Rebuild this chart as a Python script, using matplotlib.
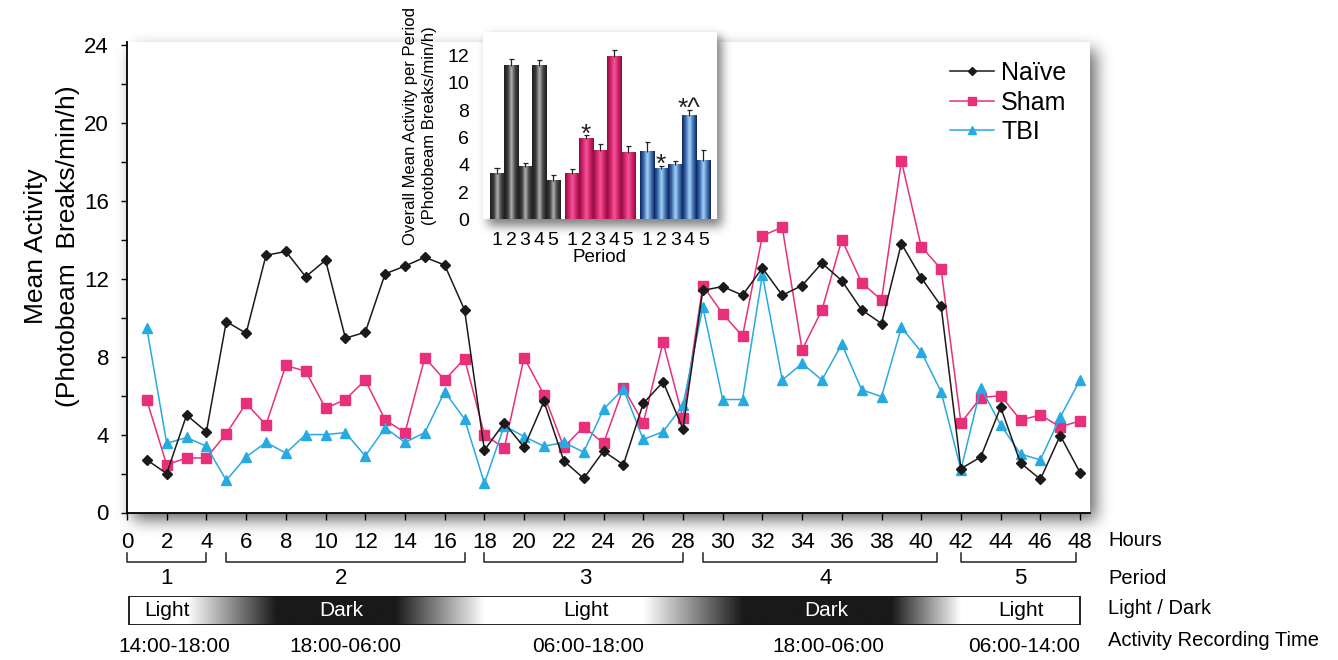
import numpy as np
import matplotlib
matplotlib.use('Agg')
import matplotlib.pyplot as plt
from matplotlib import transforms
from matplotlib.colors import LinearSegmentedColormap
from matplotlib.patches import Rectangle
from matplotlib.ticker import MultipleLocator

plt.rcParams['font.family'] = ['Liberation Sans', 'DejaVu Sans']

# hourly mean activity (photobeam breaks/min/h)
hours = np.arange(1, 49)
naive = [2.7, 2.0, 5.0, 4.15, 9.8, 9.2, 13.2, 13.4, 12.1, 12.95,
         8.95, 9.25, 12.25, 12.65, 13.1, 12.7, 10.4, 3.2, 4.6, 3.35,
         5.7, 2.65, 1.75, 3.15, 2.45, 5.6, 6.7, 4.3, 11.4, 11.6,
         11.15, 12.55, 11.15, 11.65, 12.8, 11.9, 10.4, 9.7, 13.8, 12.05,
         10.6, 2.25, 2.85, 5.4, 2.55, 1.7, 3.95, 2.05]
sham = [5.75, 2.45, 2.8, 2.8, 4.05, 5.6, 4.5, 7.55, 7.25, 5.35,
        5.8, 6.8, 4.75, 4.1, 7.95, 6.8, 7.9, 4.0, 3.3, 7.95,
        6.05, 3.35, 4.4, 3.55, 6.4, 4.6, 8.75, 4.85, 11.65, 10.2,
        9.05, 14.2, 14.65, 8.35, 10.4, 14.0, 11.8, 10.9, 18.05, 13.65,
        12.5, 4.6, 5.9, 6.0, 4.75, 5.0, 4.4, 4.7]
tbi = [9.45, 3.55, 3.85, 3.4, 1.65, 2.85, 3.6, 3.05, 4.0, 4.0,
       4.1, 2.9, 4.35, 3.6, 4.1, 6.2, 4.8, 1.5, 4.45, 3.9,
       3.4, 3.6, 3.1, 5.3, 6.35, 3.75, 4.15, 5.5, 10.55, 5.8,
       5.8, 12.2, 6.8, 7.65, 6.8, 8.65, 6.3, 5.95, 9.5, 8.25,
       6.2, 2.2, 6.4, 4.5, 3.0, 2.7, 4.9, 6.8]

# overall mean per period (inset)
periods = ['1', '2', '3', '4', '5']
naive_period = [3.3, 11.2, 3.8, 11.2, 2.8]
naive_period_err = [0.45, 0.55, 0.35, 0.45, 0.45]
sham_period = [3.3, 5.85, 5.0, 11.9, 4.85]
sham_period_err = [0.4, 0.3, 0.5, 0.5, 0.5]
tbi_period = [4.95, 3.7, 4.0, 7.55, 4.25]
tbi_period_err = [0.7, 0.2, 0.3, 0.45, 0.8]
sham_marks = ['', '*', '', '', '']
tbi_marks = ['', '*', '', '*^', '']

# annotation rows under the x axis
period_start = [0, 5, 18, 29, 42]
period_end = [4, 17, 28, 40.8, 47.8]
row_centers = [2.0, 10.8, 23.1, 35.2, 45.0]
time_centers = [2.4, 11.0, 23.2, 35.3, 45.2]
light_dark = ['Light', 'Dark', 'Light', 'Dark', 'Light']
record_times = ['14:00-18:00', '18:00-06:00', '06:00-18:00', '18:00-06:00', '06:00-14:00']
strip_hours = [0, 3, 7.5, 13.5, 18, 26, 31, 38.5, 42, 48]
strip_level = [1, 1, 0.1, 0.1, 1, 1, 0.1, 0.1, 1, 1]

W, H = 1338, 660
fig = plt.figure(figsize=(W / 100, H / 100), dpi=100)


def shadow(x0, y0, x1, y1, dx=6, dy=8, sigma=7, strength=0.55):
    mask = np.zeros((H, W))
    mask[y0 + dy:y1 + dy, x0 + dx:x1 + dx] = 1
    k = np.exp(-0.5 * (np.arange(-3 * sigma, 3 * sigma + 1) / sigma) ** 2)
    k /= k.sum()
    mask = np.apply_along_axis(lambda r: np.convolve(r, k, 'same'), 1, mask)
    mask = np.apply_along_axis(lambda c: np.convolve(c, k, 'same'), 0, mask)
    rgba = np.zeros((H, W, 4))
    rgba[..., 3] = mask * strength
    return rgba


# drop shadows behind the main panel and the inset
fig.figimage(shadow(127, 42, 1090, 512, sigma=8, strength=0.6), 0, 0, origin='upper', zorder=-1)
fig.figimage(shadow(483, 32, 717, 221, dx=5, dy=5, sigma=5, strength=0.5),
             0, 0, origin='upper', zorder=2)

# Main panel
ax = fig.add_axes([127 / W, (H - 512.5) / H, (1090 - 127) / W, (512.5 - 42) / H])
ax.set_facecolor('white')
ax.plot(hours, naive, '-', color='#1a1a1a', lw=1.1, marker='D', ms=5.3,
        mfc='#1a1a1a', mec='#1a1a1a', label='Naïve', zorder=3)
ax.plot(hours, sham, '-', color='#e8307a', lw=1.1, marker='s', ms=6.6,
        mfc='#e8307a', mec='#e8307a', label='Sham', zorder=2)
ax.plot(hours, tbi, '-', color='#27aae1', lw=1.1, marker='^', ms=7.2,
        mfc='#27aae1', mec='#27aae1', label='TBI', zorder=2)

ax.set_xlim(0, 48.5)
ax.set_ylim(0, 24.15)
ax.set_xticks(range(0, 49, 2))
ax.set_yticks(range(0, 25, 4))
ax.yaxis.set_minor_locator(MultipleLocator(2))
ax.tick_params(axis='x', labelsize=16, length=5, width=1, pad=9)
ax.tick_params(axis='y', which='both', labelsize=16, length=4, width=1, pad=9)
for s in ['top', 'right']:
    ax.spines[s].set_visible(False)
for s in ['left', 'bottom']:
    ax.spines[s].set_linewidth(1.3)

ax.legend(loc='upper left', bbox_to_anchor=(950 / W, (H - 61) / H),
          bbox_transform=fig.transFigure, frameon=False, fontsize=18,
          handlelength=1.75, handletextpad=0.3, labelspacing=0.22, markerscale=0.85,
          borderaxespad=0, borderpad=0)

fig.text(52 / W, (H - 246) / H, 'Mean Activity\n(Photobeam  Breaks/min/h)',
         rotation=90, ha='center', va='center', fontsize=19, linespacing=1.4)

# Rows under the axis
trans = transforms.blended_transform_factory(ax.transData, fig.transFigure)
y_top, y_bar = (H - 553) / H, (H - 562) / H
for a, b in zip(period_start, period_end):
    ax.plot([a, a, b, b], [y_top, y_bar, y_bar, y_top], color='#222222', lw=1.1,
            transform=trans, clip_on=False)
for c, p in zip(row_centers, periods):
    ax.text(c, (H - 579) / H, p, transform=trans, ha='center', va='center', fontsize=16)
for c, t in zip(time_centers, record_times):
    ax.text(c, (H - 647) / H, t, transform=trans, ha='center', va='center', fontsize=15)

ax_strip = fig.add_axes([127 / W, (H - 625) / H, (1090 - 127) / W, 29 / H])
ax_strip.set_xlim(0, 48.5)
ax_strip.set_ylim(0, 1)
grid = np.linspace(0.1, 48, 600)
levels = np.interp(grid, strip_hours, strip_level)
ax_strip.imshow(levels.reshape(1, -1), extent=[0.1, 48, 0, 1], cmap='gray',
                vmin=0, vmax=1, aspect='auto', interpolation='bilinear')
ax_strip.add_patch(Rectangle((0.1, 0), 47.9, 1, fill=False, ec='#111111', lw=1.3))
for c, name in zip(row_centers, light_dark):
    ax_strip.text(c, 0.5, name, ha='center', va='center', fontsize=15,
                  color='white' if name == 'Dark' else 'black')
ax_strip.axis('off')

for y, lab in zip([541, 578, 608, 641], ['Hours', 'Period', 'Light / Dark', 'Activity Recording Time']):
    fig.text(1108 / W, (H - y) / H, lab, ha='left', va='center', fontsize=14.5)

# Inset: overall mean per period
ax_in = fig.add_axes([483 / W, (H - 219.5) / H, 234 / W, 187.5 / H], zorder=3)
ax_in.set_facecolor('white')
cmaps = [
    LinearSegmentedColormap.from_list('n', ['#1e1e1e', '#3a3a3a', '#b0b0b0', '#454545', '#1e1e1e']),
    LinearSegmentedColormap.from_list('s', ['#8a0f3d', '#d3236b', '#f4559a', '#cf2268', '#8a0f3d']),
    LinearSegmentedColormap.from_list('t', ['#10235e', '#3a6db0', '#a8d2f2', '#3f77b8', '#10235e']),
]
groups = [(naive_period, naive_period_err, ['', '', '', '', '']),
          (sham_period, sham_period_err, sham_marks),
          (tbi_period, tbi_period_err, tbi_marks)]
grad = np.linspace(0, 1, 60).reshape(1, -1)
tick_pos, tick_lab = [], []
for g, ((vals, errs, marks), cm) in enumerate(zip(groups, cmaps)):
    pos = np.arange(5) + g * 5.36
    for x, v, e, m in zip(pos, vals, errs, marks):
        ax_in.imshow(grad, extent=[x - 0.5, x + 0.5, 0, v], cmap=cm, aspect='auto', zorder=2)
        ax_in.vlines(x, v, v + e, color='#222222', lw=0.9, zorder=3)
        ax_in.hlines(v + e, x - 0.18, x + 0.18, color='#222222', lw=0.9, zorder=3)
        if m:
            ax_in.text(x, v + e - 0.45, m, ha='center', va='baseline', fontsize=19,
                       color='#222222', zorder=4)
    tick_pos += list(pos)
    tick_lab += periods
ax_in.set_xlim(-1.0, 15.7)
ax_in.set_ylim(0, 13.7)
ax_in.set_xticks(tick_pos)
ax_in.set_xticklabels(tick_lab)
ax_in.set_yticks(range(0, 13, 2))
ax_in.tick_params(axis='both', length=0, labelsize=14)
ax_in.tick_params(axis='y', pad=10)
ax_in.tick_params(axis='x', pad=9)
for s in ax_in.spines.values():
    s.set_visible(False)
ax_in.set_xlabel('Period', fontsize=13.5, labelpad=0)
fig.text(420 / W, (H - 126) / H, 'Overall Mean Activity per Period\n(Photobeam Breaks/min/h)',
         rotation=90, ha='center', va='center', fontsize=12, linespacing=1.4, zorder=4)

fig.savefig('out.png', dpi=100)
